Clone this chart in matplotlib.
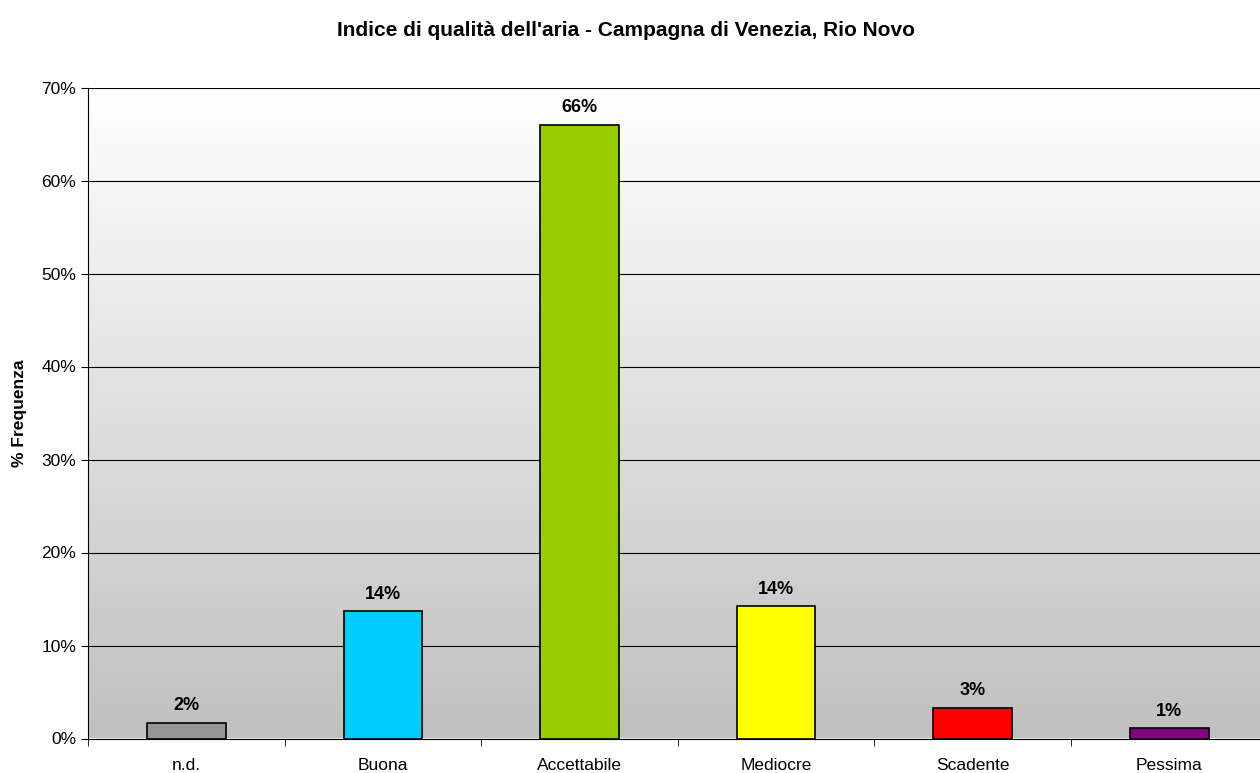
import matplotlib.pyplot as plt
import numpy as np
from matplotlib.colors import LinearSegmentedColormap

plt.rcParams["font.family"] = ["Liberation Sans", "DejaVu Sans"]

categories = ["n.d.", "Buona", "Accettabile", "Mediocre", "Scadente", "Pessima"]
values = [1.7, 13.7, 66.0, 14.2, 3.3, 1.1]
labels = ["2%", "14%", "66%", "14%", "3%", "1%"]
colors = ["#969696", "#00ccff", "#99cc00", "#ffff00", "#ff0000", "#800080"]

fig = plt.figure(figsize=(12.6, 7.73), dpi=100)
ax = fig.add_axes([88 / 1260, 1 - 738.5 / 773, 1179.6 / 1260, 651 / 773])

# background gradient: light gray at bottom, white at top
grad = np.linspace(0, 1, 256).reshape(-1, 1)
bg = LinearSegmentedColormap.from_list("bg", ["#c0c0c0", "#ffffff"])
ax.imshow(grad, cmap=bg, aspect="auto", origin="lower",
          extent=[-0.5, len(categories) - 0.5, 0, 70], zorder=0)

x = np.arange(len(categories))
ax.bar(x, values, width=0.4, color=colors, edgecolor="black", linewidth=1.2, zorder=3)
for xi, v, lab in zip(x, values, labels):
    ax.annotate(lab, (xi, v), xytext=(0, 6), textcoords="offset points",
                ha="center", va="bottom", fontsize=13, fontweight="bold")

ax.set_xlim(-0.5, len(categories) - 0.5)
ax.set_ylim(0, 70)
ax.set_yticks(range(0, 71, 10))
ax.set_yticklabels([f"{t}%" for t in range(0, 71, 10)], fontsize=12.5)
ax.set_xticks(x)
ax.set_xticklabels(categories, fontsize=12.5)
ax.tick_params(axis="x", length=0, pad=14)
ax.set_xticks(np.arange(-0.5, len(categories) + 0.5, 1), minor=True)
ax.tick_params(axis="x", which="minor", length=5, direction="out")
ax.tick_params(axis="y", length=5, direction="out")
ax.grid(axis="y", color="black", linewidth=0.8, zorder=1)
ax.set_axisbelow(True)
for s in ["top", "right"]:
    ax.spines[s].set_visible(False)
ax.set_ylabel("% Frequenza", fontsize=12.5, fontweight="bold", labelpad=10)

fig.suptitle("Indice di qualità dell'aria - Campagna di Venezia, Rio Novo",
             fontsize=15, fontweight="bold", x=0.497, y=1 - 31 / 773, va="center")

fig.savefig("out.png", dpi=100)
